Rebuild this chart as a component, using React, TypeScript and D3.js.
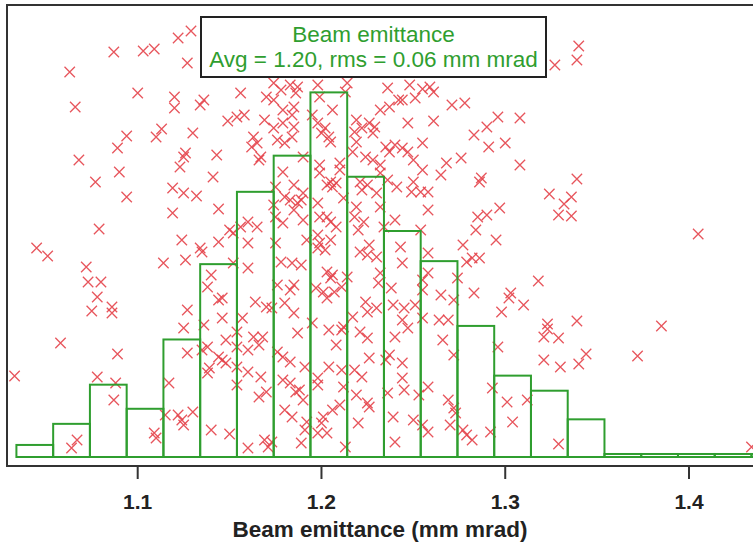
import React from "react";
import * as d3 from "d3";

// ---- data ----
const binStart = 1.034;
const binWidth = 0.02;
const binCounts = [4, 11, 24, 16, 39, 64, 88, 100, 121, 93, 75, 65, 43.5, 27, 22, 12.5, 1, 1, 1, 1, 1];
const xTicks = [1.1, 1.2, 1.3, 1.4];
const legendTitle = "Beam emittance";
const legendStats = "Avg = 1.20, rms = 0.06 mm mrad";
const xTitle = "Beam emittance (mm mrad)";

// [emittance (mm mrad), shot level (arb.)]
const shots: [number, number][] = [
  [1.087,81.0],[1.103,81.2],[1.109,81.6],[1.063,77],[1.066,70],[1.100,72.8],[1.094,64.2],[1.089,61.8],
  [1.068,59.4],[1.090,57],[1.077,55],[1.094,52],[1.079,45.6],[1.045,41.8],[1.051,40.2],[1.072,38],
  [1.073,35],[1.080,35],[1.078,32],[1.075,29.2],[1.086,30],[1.086,28.8],[1.058,22.8],[1.089,20.6],
  [1.033,16.2],[1.078,16],[1.088,14.8],[1.087,11.4],[1.067,3.4],[1.064,1.8],[1.129,85.2],[1.122,83.8],
  [1.127,78.8],[1.120,72],[1.120,69.8],[1.136,71.4],[1.134,70.4],[1.156,72.8],[1.149,67.2],[1.154,68],
  [1.158,68.4],[1.113,65.6],[1.110,64],[1.130,64.8],[1.126,60.8],[1.125,60],[1.143,60.4],[1.123,58],
  [1.141,56],[1.119,53.8],[1.125,52.8],[1.132,52.2],[1.144,49.6],[1.119,48.8],[1.150,45.4],[1.152,44.8],
  [1.124,43.4],[1.144,43],[1.134,41.8],[1.163,64],[1.165,62.8],[1.162,62],[1.167,60],[1.166,59.4],
  [1.156,46],[1.160,47],[1.165,46],[1.170,72],[1.169,67.4],[1.135,41],[1.160,42.8],[1.114,38.8],
  [1.126,39.4],[1.140,36.4],[1.138,34],[1.152,38.8],[1.160,37.8],[1.144,31.4],[1.146,31.8],[1.127,29.4],
  [1.125,25.8],[1.146,27.8],[1.136,26.4],[1.148,23.4],[1.154,25],[1.157,27.8],[1.164,31],[1.170,30],
  [1.163,24],[1.168,24],[1.166,22.4],[1.160,21.4],[1.154,22],[1.138,22],[1.135,21.4],[1.127,20.8],
  [1.144,20],[1.146,19.4],[1.148,18.8],[1.139,17.8],[1.138,16.8],[1.154,18],[1.160,17],[1.167,16],
  [1.154,14.4],[1.166,12],[1.170,13],[1.117,14.8],[1.115,8.4],[1.122,8.4],[1.124,7.4],[1.125,6.4],
  [1.130,9],[1.109,4.8],[1.110,3.8],[1.140,5.4],[1.150,4.6],[1.160,1.8],[1.169,3.4],[1.171,2],
  [1.174,74.8],[1.178,73.4],[1.183,74.4],[1.187,74],[1.186,72.8],[1.174,71.4],[1.198,74.4],[1.199,72],
  [1.214,74.8],[1.213,73],[1.236,73.8],[1.242,71.4],[1.232,69.4],[1.237,70],[1.179,69.4],[1.185,70],
  [1.184,68.4],[1.185,66],[1.179,66.8],[1.195,68.4],[1.198,66.8],[1.202,65.8],[1.206,69.4],[1.204,64],
  [1.200,64.8],[1.219,67.4],[1.218,65],[1.222,65.8],[1.226,66.8],[1.228,64.8],[1.229,66],[1.174,65.8],
  [1.176,63.4],[1.184,64],[1.180,62.8],[1.205,63],[1.219,63],[1.217,61],[1.235,62],[1.237,61],
  [1.240,62.4],[1.228,59.4],[1.224,60],[1.232,58.4],[1.199,58.4],[1.210,58.8],[1.190,60],[1.179,57],
  [1.175,54],[1.185,54.4],[1.180,52],[1.190,52.8],[1.189,51.4],[1.199,56.8],[1.210,57.4],[1.208,54.8],
  [1.205,55],[1.206,54],[1.203,54.4],[1.212,51.8],[1.221,55],[1.225,54.4],[1.222,53.4],[1.230,52.8],
  [1.232,56.8],[1.241,54],[1.236,55.4],[1.174,50.4],[1.183,51.4],[1.187,50.8],[1.185,49.4],[1.179,46.8],
  [1.190,47.4],[1.198,50.8],[1.199,48],[1.205,47],[1.208,46],[1.203,48],[1.219,50],[1.218,48],
  [1.220,45.4],[1.223,47],[1.232,50],[1.234,46],[1.240,47.4],[1.175,48],
  [1.248,74.4],[1.251,71.8],[1.255,73.6],[1.259,74],[1.261,73],[1.244,71.4],[1.271,70.4],[1.278,70.8],
  [1.247,66.8],[1.261,67.2],[1.296,68],[1.308,67.8],[1.290,66],[1.283,64.4],[1.291,62],[1.300,62.8],
  [1.244,61.8],[1.247,61],[1.255,62.8],[1.250,59.4],[1.268,58.8],[1.276,59.8],[1.265,56.4],[1.255,57.4],
  [1.287,55.8],[1.286,55],[1.308,58.4],[1.250,55],[1.249,53],[1.254,53],[1.258,53],[1.258,49.4],
  [1.285,48],[1.290,48.4],[1.297,49.8],[1.284,45.4],[1.254,45.4],
  [1.340,82.2],[1.339,79.4],[1.327,78.4],[1.339,55.6],[1.324,52.6],[1.336,52],[1.332,50.6],[1.329,48.4],
  [1.336,48.2],[1.405,44.6],
  [1.243,42],[1.244,38.8],[1.258,40.8],[1.277,42.4],[1.279,39],[1.282,39.8],[1.286,39.8],[1.295,43.4],
  [1.258,36.8],[1.255,35.4],[1.255,33.4],[1.265,32.4],[1.272,31.4],[1.274,35.8],[1.283,32.8],[1.303,32.8],
  [1.302,31.8],[1.310,30.4],[1.298,29],[1.245,29.8],[1.251,30.4],[1.244,27.4],[1.247,25.8],[1.255,27.8],
  [1.264,27.4],[1.269,27.4],[1.266,23.4],[1.272,20.4],[1.296,22],[1.244,18.8],[1.244,15.8],[1.245,13.4],
  [1.258,14],[1.253,12.4],[1.269,11.4],[1.272,9.8],[1.273,8.8],[1.293,13.8],[1.301,11],[1.312,11.4],
  [1.250,7.4],[1.255,6.4],[1.258,5],[1.270,6.4],[1.277,5.4],[1.279,4.4],[1.282,3.4],[1.292,5],[1.304,7],
  [1.318,35.2],[1.339,27.2],[1.323,26.6],[1.323,25.6],[1.321,24],[1.329,23.8],[1.385,26.2],[1.344,20.6],
  [1.321,19.4],[1.340,18.6],[1.330,18],[1.372,20.2],[1.329,2.6],[1.434,2],
  [1.175,42.8],[1.192,43.4],[1.198,44.4],[1.199,42.8],[1.205,43.4],[1.202,41.4],[1.198,41.8],[1.221,41],
  [1.226,42.4],[1.230,40],[1.225,40.4],[1.178,39],[1.184,38.8],[1.189,38.4],[1.203,37],[1.206,36.4],
  [1.205,35.8],[1.214,36],[1.232,36.8],[1.231,34.8],[1.238,33.8],[1.176,34.4],[1.185,34.4],[1.183,33.4],
  [1.197,33.8],[1.201,33],[1.203,31.8],[1.207,33],[1.211,34],[1.180,30.8],[1.185,28.8],[1.224,31],
  [1.225,29],[1.230,29.8],[1.217,28],[1.239,30.4],[1.173,29.8],[1.187,24.8],[1.195,26.8],[1.204,25.4],
  [1.208,22.4],[1.212,26],[1.211,25.4],[1.225,23.8],[1.221,25],[1.240,24],[1.176,21],[1.183,19],
  [1.179,20],[1.191,18],[1.198,15.8],[1.204,18],[1.211,17.4],[1.218,17.4],[1.222,16],[1.226,19.8],
  [1.235,19.4],[1.237,20.4],[1.179,15.4],[1.183,14.8],[1.186,13],[1.188,13.4],[1.190,11.4],[1.198,14.4],
  [1.212,14],[1.219,12.4],[1.225,10.8],[1.226,10],[1.236,12.8],[1.239,8],[1.180,9.4],[1.184,8],
  [1.192,7],[1.191,5.4],[1.189,2.8],[1.201,8],[1.200,6.8],[1.206,9.4],[1.210,10.4],[1.198,4.8],
  [1.203,4.8],[1.213,2],[1.220,6.8],[1.173,3],[1.240,3],
];

// ---- layout ----
const W = 753;
const H = 547;
const frameLeft = 7;
const frameTop = 5;
const axisY = 466;
const baseY = 457;

const GREEN = "#2f9e2f";
const RED = "#e4434a";

export default function App() {
  const x = d3.scaleLinear().domain([1.1, 1.4]).range([137.7, 689]);
  const yHist = d3.scaleLinear().domain([0, 150]).range([baseY, frameTop]);
  const yShot = d3.scaleLinear().domain([0, 90]).range([baseY, frameTop + 2]);
  const fmt = d3.format(".1f");
  const bins = binCounts.map((c, i) => ({
    x0: binStart + i * binWidth,
    x1: binStart + (i + 1) * binWidth,
    c,
  }));
  const s = 5.2;
  return (
    <svg
      width={W}
      height={H}
      style={{ position: "absolute", left: 0, top: 0, display: "block", background: "#fff" }}
      fontFamily="Arial, 'Liberation Sans', sans-serif"
    >
      <defs>
        <clipPath id="plotClip">
          <rect x={frameLeft} y={frameTop} width={W - frameLeft} height={axisY - frameTop} />
        </clipPath>
      </defs>
      <g clipPath="url(#plotClip)">
        {shots.map(([e, l], i) => {
          const cx = x(e);
          const cy = yShot(l);
          return (
            <path
              key={i}
              d={`M${cx - s},${cy - s}L${cx + s},${cy + s}M${cx - s},${cy + s}L${cx + s},${cy - s}`}
              stroke={RED}
              strokeWidth={1.3}
              fill="none"
              opacity={0.9}
            />
          );
        })}
        {bins.map((b, i) => (
          <rect
            key={i}
            x={x(b.x0)}
            y={yHist(b.c)}
            width={x(b.x1) - x(b.x0)}
            height={yHist(0) - yHist(b.c)}
            fill="none"
            stroke={GREEN}
            strokeWidth={2}
          />
        ))}
      </g>
      {/* frame */}
      <path
        d={`M${W + 5},${frameTop}H${frameLeft}V${axisY}H${W + 5}`}
        fill="none"
        stroke="#333"
        strokeWidth={2}
      />
      {/* ticks */}
      {xTicks.map((t) => (
        <g key={t}>
          <line x1={x(t)} x2={x(t)} y1={axisY} y2={axisY + 13} stroke="#333" strokeWidth={2} />
          <text x={x(t)} y={509} textAnchor="middle" fontSize={21} fontWeight="bold" fill="#222">
            {fmt(t)}
          </text>
        </g>
      ))}
      <text x={380} y={537} textAnchor="middle" fontSize={22.5} fontWeight="bold" fill="#222">
        {xTitle}
      </text>
      {/* legend */}
      <rect x={201} y={17} width={345} height={60} fill="#fff" stroke="#222" strokeWidth={2} />
      <text x={373.5} y={42} textAnchor="middle" fontSize={22.5} fill={GREEN}>
        {legendTitle}
      </text>
      <text x={373.5} y={67} textAnchor="middle" fontSize={22.5} fill={GREEN}>
        {legendStats}
      </text>
    </svg>
  );
}
